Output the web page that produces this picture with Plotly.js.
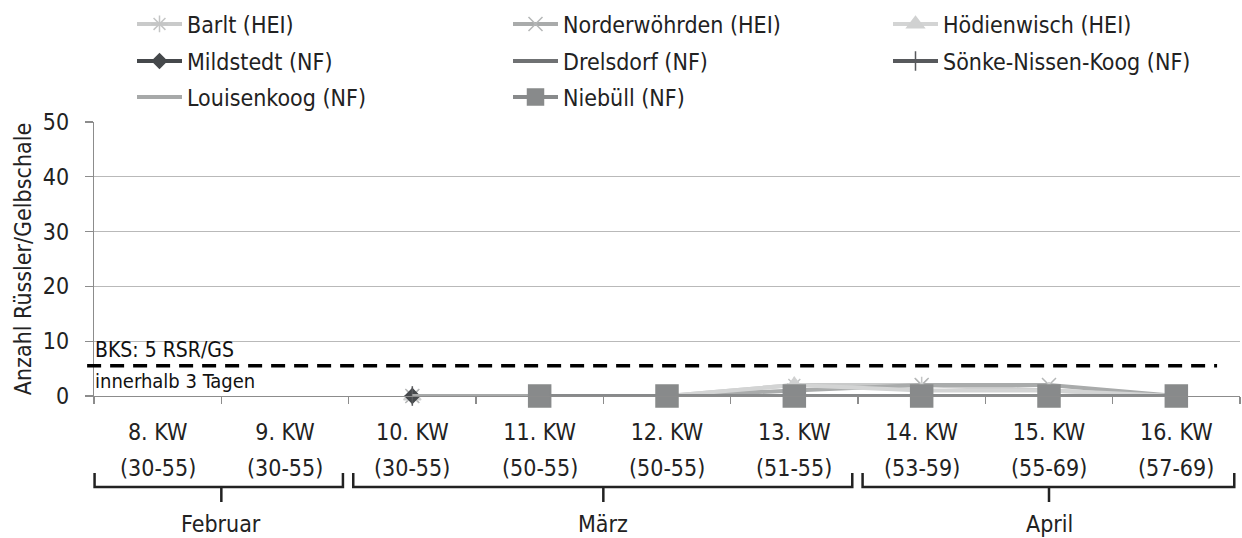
<!DOCTYPE html>
<html>
<head>
<meta charset="utf-8">
<script src="https://cdn.plot.ly/plotly-3.0.1.min.js"></script>
<style>html,body{margin:0;padding:0;background:#fff;}#chart{width:1242px;height:538px;}</style>
</head>
<body>
<div id="chart"></div>
<script>
// ---- data ----
const weeks = ['8. KW','9. KW','10. KW','11. KW','12. KW','13. KW','14. KW','15. KW','16. KW'];
const weekRanges = ['(30-55)','(30-55)','(30-55)','(50-55)','(50-55)','(51-55)','(53-59)','(55-69)','(57-69)'];
const months = ['Februar','März','April'];
const monthStart = [0, 2, 6];   // first week index of month
const monthEnd   = [1, 5, 8];   // last week index of month
const monthTick  = [0.5, 3.5, 7]; // brace centre (week index)

const barlt          = [null, null, 0, 0, 0, 2, 2, 1, 0];
const norderwoehrden = [null, null, 0, 0, 0, 1, 2, 2, 0];
const hoedienwisch   = [null, null, 0, 0, 0, 2, 1, 1, 0];
const mildstedt      = [null, null, 0, 0, 0, 0, 0, 0, 0];
const drelsdorf      = [null, null, 0, 0, 0, 0, 0, 0, 0];
const soenke         = [null, null, 0, 0, 0, 0, 0, 0, 0];
const louisenkoog    = [null, null, 0, 0, 0, 0, 0, 0, 0];
const niebuell       = [null, null, null, 0, 0, 0, 0, 0, 0];

const bksLevel = 5.5;
const yTicks = [0, 10, 20, 30, 40, 50];

// ---- styling ----
const FONT = '"DejaVu Sans Condensed", "DejaVu Sans", sans-serif';
const TXT = '#222';

function tr(name, y, color, symbol, msize, mcolor, legend) {
  const t = {
    type: 'scatter', mode: symbol ? 'lines+markers' : 'lines',
    x: weeks, y: y, name: name, legend: legend,
    line: {color: color, width: 4},
    cliponaxis: false,
    connectgaps: false
  };
  if (symbol) t.marker = {symbol: symbol, size: msize, color: mcolor,
    line: {color: mcolor, width: 1.5}};
  return t;
}

const traces = [
  tr('Barlt (HEI)', barlt, '#c9caca', 'asterisk-open', 14, '#c4c5c5', 'legend'),
  tr('Norderwöhrden (HEI)', norderwoehrden, '#a9abab', 'x-thin-open', 14, '#b5b7b7', 'legend2'),
  tr('Hödienwisch (HEI)', hoedienwisch, '#d3d4d4', 'triangle-up', 15, '#d0d1d1', 'legend3'),
  tr('Mildstedt (NF)', mildstedt, '#45484b', 'diamond', 11, '#45484b', 'legend4'),
  tr('Drelsdorf (NF)', drelsdorf, '#6f7173', null, 0, null, 'legend5'),
  tr('Sönke-Nissen-Koog (NF)', soenke, '#57595c', 'line-ns-open', 14, '#57595c', 'legend6'),
  tr('Louisenkoog (NF)', louisenkoog, '#a7a9a9', null, 0, null, 'legend7'),
  tr('Niebüll (NF)', niebuell, '#888a8b', 'square', 22, '#888a8b', 'legend8')
];

const N = weeks.length;
const px = i => (i + 0.5) / N;          // week index -> paper x (centre)
const plotLeft = 94, plotRight = 1240, plotW = plotRight - plotLeft;
const plotTop = 122, plotBottom = 396, plotH = plotBottom - plotTop;
const py = pix => (plotBottom - pix) / plotH; // pixel row -> paper y
const pxp = pix => (pix - plotLeft) / plotW;  // pixel col -> paper x

// threshold line + braces
const shapes = [{
  type: 'line', xref: 'paper', yref: 'y', x0: -0.006, x1: 0.98, y0: bksLevel, y1: bksLevel,
  line: {color: '#000', width: 3.5, dash: '14px,9px'}
}];
const yLine = py(487), yEnd = py(473), yTip = py(502);
months.forEach((m, k) => {
  const a = monthStart[k] / N + (k === 0 ? 0.0005 : 0.004);
  const b = (monthEnd[k] + 1) / N - 0.005;
  const c = px(monthTick[k]);
  shapes.push({type: 'path', xref: 'paper', yref: 'paper',
    path: `M${a},${yEnd} L${a},${yLine} L${b},${yLine} L${b},${yEnd} M${c},${yLine} L${c},${yTip}`,
    line: {color: '#222', width: 2.5}});
});

const annotations = [];
weekRanges.forEach((r, i) => annotations.push({
  xref: 'x', yref: 'paper', x: weeks[i], y: py(468), text: r, showarrow: false,
  xanchor: 'center', yanchor: 'middle', font: {family: FONT, size: 23, color: TXT}
}));
months.forEach((m, k) => annotations.push({
  xref: 'paper', yref: 'paper', x: px(monthTick[k]), y: py(524), text: m, showarrow: false,
  xanchor: 'center', yanchor: 'middle', font: {family: FONT, size: 23, color: TXT}
}));
annotations.push({xref: 'paper', yref: 'paper', x: 0, xshift: -1, y: py(350), text: 'BKS: 5 RSR/GS',
  showarrow: false, xanchor: 'left', yanchor: 'middle', font: {family: FONT, size: 21, color: '#111'}});
annotations.push({xref: 'paper', yref: 'paper', x: 0, xshift: -1, y: py(381), text: 'innerhalb 3 Tagen',
  showarrow: false, xanchor: 'left', yanchor: 'middle', font: {family: FONT, size: 20, color: '#111'}});

// legend grid: text start columns and row centres (pixels)
const legCols = [132, 508, 888];
const legRows = [24, 61, 97];
function leg(col, row) {
  return {orientation: 'v', xanchor: 'left', yanchor: 'middle',
    x: pxp(legCols[col]), y: py(legRows[row]), itemwidth: 45,
    font: {family: FONT, size: 23, color: TXT}, bgcolor: 'rgba(0,0,0,0)', borderwidth: 0,
    itemclick: false, itemdoubleclick: false};
}

const layout = {
  width: 1242, height: 538,
  margin: {l: plotLeft, r: 1242 - plotRight, t: plotTop, b: 538 - plotBottom, pad: 0, autoexpand: false},
  paper_bgcolor: '#fff', plot_bgcolor: '#fff',
  font: {family: FONT, size: 23, color: TXT},
  showlegend: true,
  legend: leg(0, 0), legend2: leg(1, 0), legend3: leg(2, 0),
  legend4: leg(0, 1), legend5: leg(1, 1), legend6: leg(2, 1),
  legend7: leg(0, 2), legend8: leg(1, 2),
  xaxis: {
    type: 'category', categoryorder: 'array', categoryarray: weeks,
    range: [-0.5, N - 0.5], showgrid: false, zeroline: false,
    showline: true, linecolor: '#8c8c8c', linewidth: 1.2,
    ticks: 'outside', tickson: 'boundaries', ticklen: 7, tickcolor: '#8c8c8c', tickwidth: 1.2,
    tickfont: {family: FONT, size: 23, color: TXT}, ticklabelstandoff: 15,
    fixedrange: true
  },
  yaxis: {
    range: [0, 50], tickvals: yTicks, ticktext: yTicks.map(String),
    showgrid: true, gridcolor: '#b9b9b9', gridwidth: 1.2, zeroline: false,
    showline: true, linecolor: '#8c8c8c', linewidth: 1.2,
    ticks: 'outside', ticklen: 8, tickcolor: '#8c8c8c', tickwidth: 1.2,
    tickfont: {family: FONT, size: 23, color: TXT}, ticklabelstandoff: 11,
    title: {text: 'Anzahl Rüssler/Gelbschale', font: {family: FONT, size: 23, color: TXT}, standoff: 4},
    fixedrange: true
  },
  shapes: shapes,
  annotations: annotations
};

Plotly.newPlot('chart', traces, layout, {displayModeBar: false, staticPlot: true});
</script>
</body>
</html>
